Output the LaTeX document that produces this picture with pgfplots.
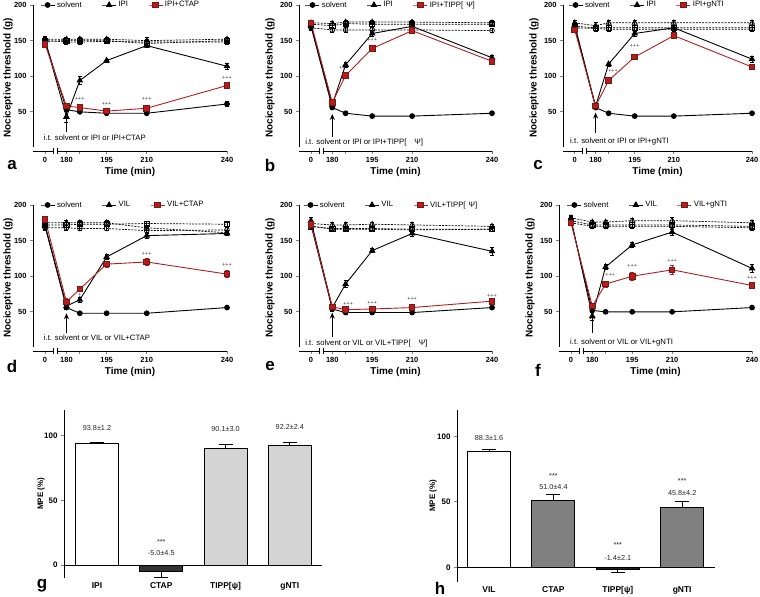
\documentclass[border=0pt]{standalone}
\usepackage{pgfplots}
\pgfplotsset{compat=1.18}
\usepackage{fontspec}
\setmainfont{Liberation Sans}
\usetikzlibrary{arrows.meta}
\definecolor{myred}{RGB}{178,30,30}

\pgfplotsset{
 ylab/.style={every axis y label/.append style={at={(axis description cs:0,0.5)}, anchor=south, yshift=#1, inner sep=0pt}},
 lp/.style={scale only axis, height=146bp, xmin=167.5, xmax=240, ymin=-5, ymax=200, clip=false,
  axis x line*=bottom, axis y line*=left, axis line style={draw=none},
  xtick={172,180,185,195,210,240}, xticklabels={0,180,,195,210,240},
  ytick={50,100,150,200}, tick align=outside, major tick length=3bp,
  tick style={line width=0.9bp},
  /pgf/number format/assume math mode=true,
  ticklabel style={font=\bfseries\fontsize{7.5}{8}\selectfont},
  xlabel={Time (min)}, ylabel={Nociceptive threshold (g)},
  label style={font=\bfseries\fontsize{10}{11}\selectfont},
  xlabel style={yshift=2bp},
  legend columns=3, legend cell align=left,
  legend style={draw=none, fill=none, inner sep=0pt, anchor=west, font=\fontsize{7.8}{8}\selectfont,
    /tikz/every even column/.append style={column sep=18bp}},
  legend image code/.code={\draw[mark repeat=2,mark phase=2] plot coordinates {(0bp,0bp) (7bp,0bp) (14bp,0bp)};},
 },
 sol/.style={black, line width=0.9bp, mark=*, mark size=2.4bp, mark options={solid}},
 tri/.style={black, line width=0.9bp, mark=triangle*, mark size=3bp, mark options={solid}},
 rsq/.style={myred, line width=0.9bp, mark=square*, mark size=2.8bp, mark options={solid, fill=myred, draw=myred!70!black}},
 osol/.style={black, line width=0.7bp, dash pattern=on 2bp off 1.2bp, mark=o, mark size=2.4bp, mark options={solid, fill=white}},
 otri/.style={black, line width=0.7bp, dash pattern=on 2bp off 1.2bp, mark=triangle, mark size=3bp, mark options={solid, fill=white}},
 osq/.style={black, line width=0.7bp, dash pattern=on 2bp off 1.2bp, mark=square, mark size=2.6bp, mark options={solid, fill=white}},
 eb/.style={error bars/.cd, y dir=both, y explicit, error bar style={line width=0.7bp, solid}, error mark options={rotate=90, mark size=2bp, line width=0.7bp, solid}},
 bp/.style={scale only axis, ybar, bar width=43bp, bar shift=0pt, clip=false, ymin=-10, ymax=120,
  xtick={1,2,3,4}, ytick={0,50,100}, axis y line*=left, axis x line*=bottom, x axis line style={draw=none},
  tick align=outside, major tick length=3bp, tick style={line width=0.9bp}, xtick style={draw=none},
  /pgf/number format/assume math mode=true,
  ticklabel style={font=\bfseries\fontsize{8}{9}\selectfont},
  xticklabel style={font=\bfseries\fontsize{8.5}{9}\selectfont, yshift=2bp},
  ylabel={MPE (\%)}, ylabel style={font=\bfseries\fontsize{8}{9}\selectfont},
  axis line style={line width=1bp}},
 bb/.style={draw=black, line width=1.1bp, fill=#1},
 ebp/.style={error bars/.cd, y dir=#1, y explicit, error bar style={line width=1bp}, error mark options={rotate=90, mark size=7bp, line width=1bp}},
}
\tikzset{pp/.style={font=\fontsize{5.5}{6}\selectfont, inner sep=0pt, text=black!80},
 itxt/.style={font=\fontsize{7.8}{9}\selectfont, inner sep=0pt, anchor=west},
 arr/.style={-{Stealth[length=6bp,width=5bp]}, line width=1.1bp},
 plab/.style={font=\bfseries\fontsize{17}{17}\selectfont, inner sep=0pt},
 blab/.style={font=\fontsize{7.3}{8}\selectfont, inner sep=0pt, text=black!85}}
\newcommand{\axisdecor}{%
 \draw[line width=1bp] (axis cs:167.5,0) -- (axis cs:167.5,200);
 \draw[line width=1bp] (axis cs:167.5,-5) -- (axis cs:175,-5) (axis cs:176.5,-5) -- (axis cs:240,-5);
 \draw[line width=0.8bp] (axis cs:175,-9) -- (axis cs:175,-1) (axis cs:176.5,-9) -- (axis cs:176.5,-1);}

\begin{document}
\begin{tikzpicture}
\path[use as bounding box] (0,0) rectangle (760bp,-597bp);

% ---------------- panel a
\begin{axis}[lp, ylab=20bp, width=194bp, at={(33bp,-151bp)}, anchor=south west, legend style={at={(axis description cs:0.036,1)}}]
\addplot[osol, forget plot, eb] table[row sep=\\, y error=e]{t v e\\172 150 4\\180 148 3\\185 148 3\\195 149 3\\210 148 4\\240 148 3\\};
\addplot[otri, forget plot, eb] table[row sep=\\, y error=e]{t v e\\172 152 4\\180 152 3\\185 152 3\\195 152 3\\210 150 4\\240 152 3\\};
\addplot[osq, forget plot, eb] table[row sep=\\, y error=e]{t v e\\172 149 4\\180 150 3\\185 150 3\\195 150 3\\210 146 4\\240 150 3\\};
\addplot[sol, eb] table[row sep=\\, y error=e]{t v e\\172 150 4\\180 53 3\\185 50 2\\195 48 2\\210 48 2\\240 61 4\\};
\addlegendentry{solvent}
\addplot[tri, eb] table[row sep=\\, y error=e]{t v e\\172 150 4\\180 43 8\\185 94 6\\195 122 2\\210 143 3\\240 114 4\\};
\addlegendentry{IPI}
\addplot[rsq, eb] table[row sep=\\, y error=e]{t v e\\172 145 4\\180 58 4\\185 56 3\\195 51 3\\210 55 3\\240 87 3\\};
\addlegendentry{IPI+CTAP}
\axisdecor
\node[pp] at (axis cs:185,68) {+++};
\node[pp] at (axis cs:195,61) {+++};
\node[pp] at (axis cs:210,68) {+++};
\node[pp] at (axis cs:240,97) {+++};
\node[itxt] at (axis cs:171.5,13) {i.t. solvent or IPI or IPI+CTAP};
\draw[arr] (axis cs:180,22) -- (axis cs:180,50);
\end{axis}

% ---------------- panel b
\begin{axis}[lp, ylab=24bp, width=193bp, at={(299bp,-151bp)}, anchor=south west, legend style={at={(axis description cs:0.03,1)}}]
\addplot[osol, forget plot, eb] table[row sep=\\, y error=e]{t v e\\172 168 4\\180 165 4\\185 165 3\\195 165 3\\210 165 3\\240 164 3\\};
\addplot[otri, forget plot, eb] table[row sep=\\, y error=e]{t v e\\172 175 4\\180 174 3\\185 176 3\\195 176 3\\210 176 3\\240 175 3\\};
\addplot[osq, forget plot, eb] table[row sep=\\, y error=e]{t v e\\172 173 4\\180 171 3\\185 174 3\\195 173 3\\210 173 3\\240 173 3\\};
\addplot[sol, eb] table[row sep=\\, y error=e]{t v e\\172 170 4\\180 56 2\\185 48 2\\195 44 2\\210 44 2\\240 48 2\\};
\addlegendentry{solvent}
\addplot[tri, eb] table[row sep=\\, y error=e]{t v e\\172 172 4\\180 60 4\\185 116 3\\195 160 4\\210 170 4\\240 126 4\\};
\addlegendentry{IPI}
\addplot[rsq, eb] table[row sep=\\, y error=e]{t v e\\172 175 4\\180 63 4\\185 101 4\\195 139 4\\210 164 4\\240 121 4\\};
\addlegendentry{IPI+TIPP[\hspace{3bp}Ψ]}
\axisdecor
\node[pp] at (axis cs:183.7,112) {++};
\node[pp] at (axis cs:195,151) {+++};
\node[itxt] at (axis cs:169.8,6.5) {i.t. solvent or IPI or IPI+TIPP[\hspace{8bp}Ψ]};
\draw[arr] (axis cs:180,15) -- (axis cs:180,47);
\end{axis}

% ---------------- panel c
\begin{axis}[lp, ylab=24bp, width=189bp, at={(563bp,-151bp)}, anchor=south west, legend style={at={(axis description cs:0.026,1)}}]
\addplot[osol, forget plot, eb] table[row sep=\\, y error=e]{t v e\\172 168 4\\180 167 4\\185 166 3\\195 166 3\\210 166 3\\240 166 3\\};
\addplot[otri, forget plot, eb] table[row sep=\\, y error=e]{t v e\\172 175 4\\180 171 4\\185 175 4\\195 175 4\\210 175 4\\240 175 3\\};
\addplot[osq, forget plot, eb] table[row sep=\\, y error=e]{t v e\\172 170 4\\180 168 3\\185 168 3\\195 168 3\\210 168 3\\240 168 3\\};
\addplot[sol, eb] table[row sep=\\, y error=e]{t v e\\172 170 4\\180 56 2\\185 48 2\\195 44 2\\210 44 2\\240 48 2\\};
\addlegendentry{solvent}
\addplot[tri, eb] table[row sep=\\, y error=e]{t v e\\172 172 4\\180 58 4\\185 117 3\\195 160 4\\210 168 4\\240 124 4\\};
\addlegendentry{IPI}
\addplot[rsq, eb] table[row sep=\\, y error=e]{t v e\\172 165 4\\180 58 4\\185 94 3\\195 127 4\\210 157 4\\240 113 3\\};
\addlegendentry{IPI+gNTI}
\axisdecor
\node[pp] at (axis cs:186.7,108) {+++};
\node[pp] at (axis cs:195,142) {+++};
\node[itxt] at (axis cs:170.2,9) {i.t. solvent or IPI or IPI+gNTI};
\draw[arr] (axis cs:180,20) -- (axis cs:180,49);
\end{axis}

% ---------------- panel d
\begin{axis}[lp, ylab=20bp, width=194bp, at={(33bp,-351bp)}, anchor=south west, legend style={at={(axis description cs:0.036,1)}}]
\addplot[osol, forget plot, eb] table[row sep=\\, y error=e]{t v e\\172 168 4\\180 168 3\\185 167 3\\195 167 3\\210 164 4\\240 165 3\\};
\addplot[otri, forget plot, eb] table[row sep=\\, y error=e]{t v e\\172 175 4\\180 175 3\\185 175 3\\195 175 3\\210 168 4\\240 161 3\\};
\addplot[osq, forget plot, eb] table[row sep=\\, y error=e]{t v e\\172 172 4\\180 172 3\\185 173 3\\195 173 3\\210 174 3\\240 173 3\\};
\addplot[sol, eb] table[row sep=\\, y error=e]{t v e\\172 170 4\\180 56 3\\185 48 2\\195 48 2\\210 48 2\\240 56 2\\};
\addlegendentry{solvent}
\addplot[tri, eb] table[row sep=\\, y error=e]{t v e\\172 172 4\\180 58 4\\185 67 4\\195 127 4\\210 157 4\\240 160 3\\};
\addlegendentry{VIL}
\addplot[rsq, eb] table[row sep=\\, y error=e]{t v e\\172 180 4\\180 64 5\\185 82 3\\195 117 4\\210 120 5\\240 103 5\\};
\addlegendentry{VIL+CTAP}
\axisdecor
\node[pp] at (axis cs:185,74) {+};
\node[pp] at (axis cs:210,131) {+++};
\node[pp] at (axis cs:240,116) {+++};
\node[itxt] at (axis cs:171.5,13.5) {i.t. solvent or VIL or VIL+CTAP};
\draw[arr] (axis cs:180,20) -- (axis cs:180,48);
\end{axis}

% ---------------- panel e
\begin{axis}[lp, ylab=24bp, width=193bp, at={(299bp,-351bp)}, anchor=south west, legend style={at={(axis description cs:0.02,1)}}]
\addplot[osol, forget plot, eb] table[row sep=\\, y error=e]{t v e\\172 170 4\\180 166 3\\185 166 3\\195 166 3\\210 165 4\\240 166 3\\};
\addplot[otri, forget plot, eb] table[row sep=\\, y error=e]{t v e\\172 174 4\\180 172 3\\185 172 3\\195 173 3\\210 172 4\\240 170 3\\};
\addplot[osq, forget plot, eb] table[row sep=\\, y error=e]{t v e\\172 170 4\\180 167 3\\185 167 3\\195 167 3\\210 166 4\\240 166 3\\};
\addplot[sol, eb] table[row sep=\\, y error=e]{t v e\\172 172 4\\180 54 3\\185 49 2\\195 49 2\\210 49 2\\240 56 2\\};
\addlegendentry{solvent}
\addplot[tri, eb] table[row sep=\\, y error=e]{t v e\\172 178 5\\180 56 4\\185 89 5\\195 136 3\\210 160 4\\240 135 6\\};
\addlegendentry{VIL}
\addplot[rsq, eb] table[row sep=\\, y error=e]{t v e\\172 173 4\\180 57 4\\185 53 3\\195 54 3\\210 56 3\\240 65 3\\};
\addlegendentry{VIL+TIPP[\hspace{3bp}Ψ]}
\axisdecor
\node[pp] at (axis cs:186,61) {+++};
\node[pp] at (axis cs:195,63) {+++};
\node[pp] at (axis cs:210,68) {+++};
\node[pp] at (axis cs:240,72) {+++};
\node[itxt] at (axis cs:169.8,6) {i.t. solvent or VIL or VIL+TIPP[\hspace{8bp}Ψ]};
\draw[arr] (axis cs:180,15) -- (axis cs:180,49);
\end{axis}

% ---------------- panel f
\begin{axis}[lp, ylab=24bp, width=193bp, at={(559bp,-351bp)}, anchor=south west, legend style={at={(axis description cs:0.04,1)}}]
\addplot[osol, forget plot, eb] table[row sep=\\, y error=e]{t v e\\172 175 4\\180 170 3\\185 170 3\\195 170 3\\210 170 4\\240 168 3\\};
\addplot[otri, forget plot, eb] table[row sep=\\, y error=e]{t v e\\172 182 4\\180 176 3\\185 176 3\\195 178 3\\210 178 4\\240 175 3\\};
\addplot[osq, forget plot, eb] table[row sep=\\, y error=e]{t v e\\172 178 4\\180 172 3\\185 172 3\\195 172 3\\210 172 4\\240 170 3\\};
\addplot[sol, eb] table[row sep=\\, y error=e]{t v e\\172 178 4\\180 52 3\\185 50 2\\195 50 2\\210 50 2\\240 56 2\\};
\addlegendentry{solvent}
\addplot[tri, eb] table[row sep=\\, y error=e]{t v e\\172 180 4\\180 44 6\\185 113 3\\195 144 4\\210 162 4\\240 111 5\\};
\addlegendentry{VIL}
\addplot[rsq, eb] table[row sep=\\, y error=e]{t v e\\172 175 4\\180 58 4\\185 89 4\\195 100 6\\210 109 6\\240 87 4\\};
\addlegendentry{VIL+gNTI}
\axisdecor
\node[pp] at (axis cs:186.7,102) {+++};
\node[pp] at (axis cs:195,114) {+++};
\node[pp] at (axis cs:210,122) {+++};
\node[pp] at (axis cs:240,98) {+++};
\node[itxt] at (axis cs:171.6,7.5) {i.t. solvent or VIL or VIL+gNTI};
\draw[arr] (axis cs:180,20) -- (axis cs:180,48);
\end{axis}

% ---------------- panel g
\begin{axis}[bp, ylab=19bp, width=258bp, height=168bp, xmin=0.487, xmax=4.5, at={(64bp,-578bp)}, anchor=south west,
  xticklabels={IPI,CTAP,TIPP[ψ],gNTI}]
\addplot[bb=white, ebp=plus] coordinates {(1,93.8) +- (0,1.2)};
\addplot[bb=black!80, ebp=minus] coordinates {(2,-5.0) +- (0,4.5)};
\addplot[bb=black!17, ebp=plus] coordinates {(3,90.1) +- (0,3.0)};
\addplot[bb=black!17, ebp=plus] coordinates {(4,92.2) +- (0,2.4)};
\draw[line width=1bp] (axis cs:0.487,0) -- (axis cs:4.5,0);
\node[blab] at (axis cs:1,106) {93.8±1.2};
\node[blab] at (axis cs:2,17.5) {***};
\node[blab] at (axis cs:2,9) {-5.0±4.5};
\node[blab] at (axis cs:3,105.4) {90.1±3.0};
\node[blab] at (axis cs:4,107) {92.2±2.4};
\end{axis}

% ---------------- panel h
\begin{axis}[bp, ylab=20bp, width=258bp, height=172bp, ymin=-11, xmin=0.502, xmax=4.51, at={(457bp,-582bp)}, anchor=south west,
  xticklabels={VIL,CTAP,TIPP[ψ],gNTI}]
\addplot[bb=white, ebp=plus] coordinates {(1,88.3) +- (0,1.6)};
\addplot[bb=black!50, ebp=plus] coordinates {(2,51.0) +- (0,4.4)};
\addplot[bb=black!88, ebp=minus] coordinates {(3,-1.4) +- (0,2.1)};
\addplot[bb=black!50, ebp=plus] coordinates {(4,45.8) +- (0,4.2)};
\draw[line width=1bp] (axis cs:0.502,0) -- (axis cs:4.51,0);
\node[blab] at (axis cs:1,99) {88.3±1.6};
\node[blab] at (axis cs:2,70) {***};
\node[blab] at (axis cs:2,61) {51.0±4.4};
\node[blab] at (axis cs:3,17) {***};
\node[blab] at (axis cs:3,7.6) {-1.4±2.1};
\node[blab] at (axis cs:4,65.6) {***};
\node[blab] at (axis cs:4,56.5) {45.8±4.2};
\end{axis}

% panel letters
\node[plab] at (12bp,-165bp) {a};
\node[plab] at (270bp,-165bp) {b};
\node[plab] at (538bp,-165bp) {c};
\node[plab] at (12bp,-366bp) {d};
\node[plab] at (270bp,-366bp) {e};
\node[plab] at (538bp,-370bp) {f};
\node[plab] at (42bp,-586bp) {g};
\node[plab] at (440bp,-588bp) {h};
\end{tikzpicture}
\end{document}
